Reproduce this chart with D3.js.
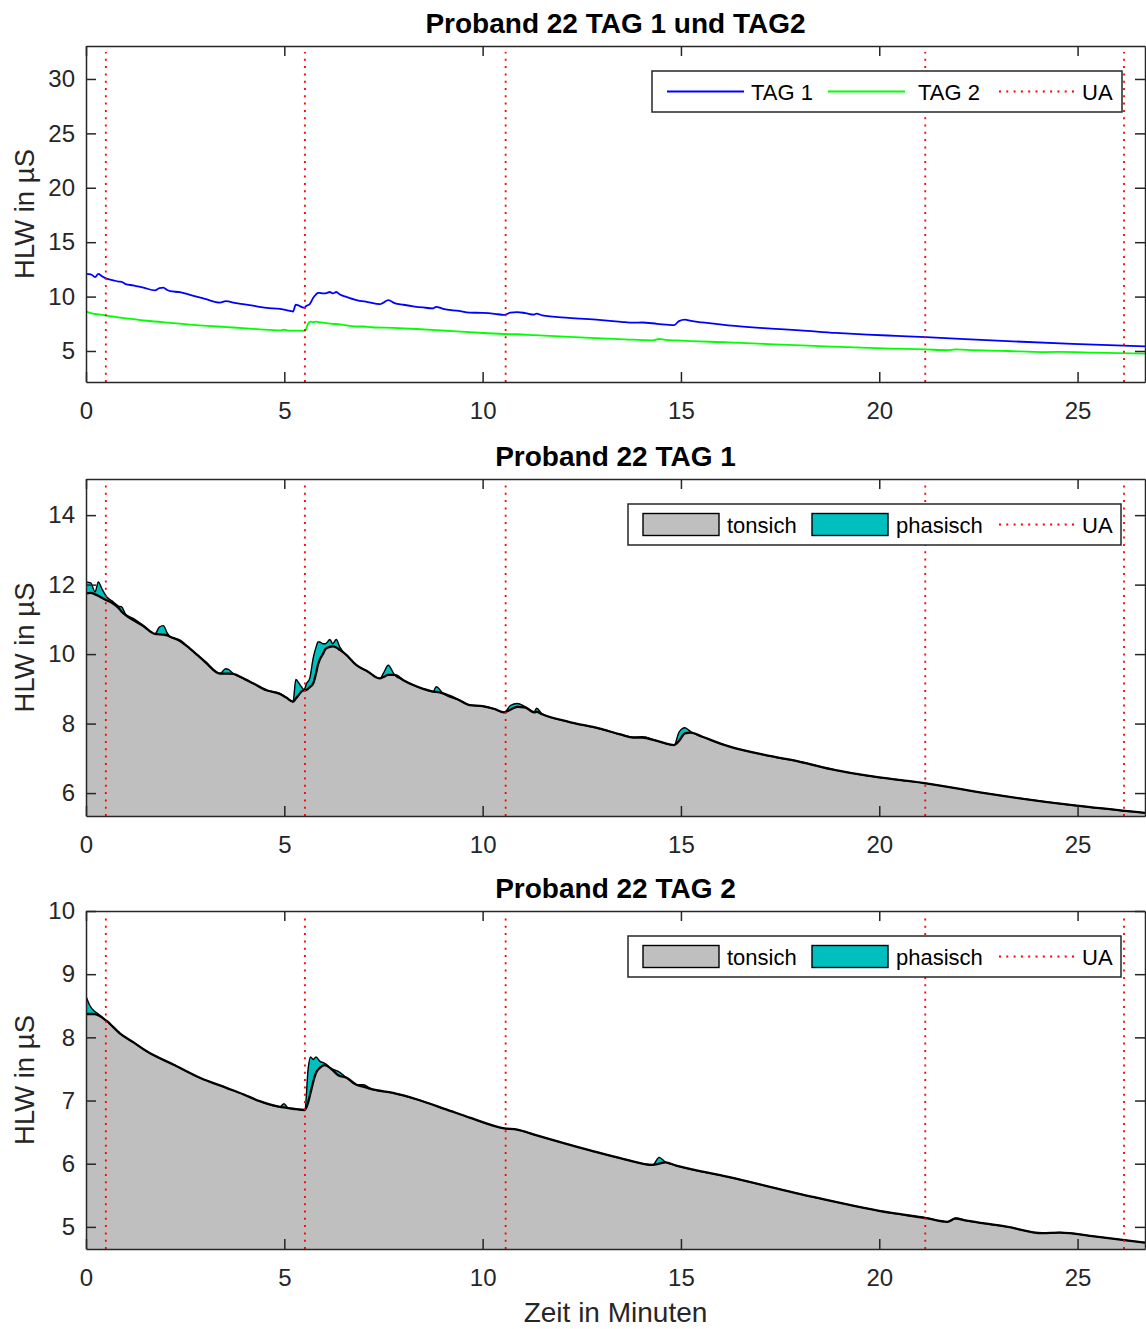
<!DOCTYPE html>
<html>
<head>
<meta charset="utf-8">
<script src="https://cdn.jsdelivr.net/npm/d3@7"></script>
<style>
  body { margin: 0; background: #fff; }
  svg text { font-family: "Liberation Sans", Arial, Helvetica, sans-serif; }
</style>
</head>
<body>
<svg id="chart" width="1146" height="1329"></svg>
<script>
// Tag 1 (minutes, total HLW, tonic HLW)
var minutesT1 = [0, 0.12, 0.23, 0.31, 0.4, 0.52, 0.69, 0.82, 0.9, 1.0, 1.19, 1.45, 1.74, 1.85, 1.95, 2.05, 2.12, 2.37, 2.62, 3.0,
  3.38, 3.52, 3.59, 3.71, 4.0, 4.21, 4.55, 4.89, 5.05, 5.22, 5.29, 5.36, 5.43, 5.5, 5.56, 5.64, 5.73, 5.8, 5.85, 5.89,
  5.97, 6.04, 6.15, 6.22, 6.31, 6.4, 6.57, 6.82, 7.1, 7.41, 7.5, 7.62, 7.78, 8.0, 8.25, 8.5, 8.75, 8.83, 9.0, 9.4,
  9.67, 10.0, 10.3, 10.54, 10.7, 10.87, 11.08, 11.3, 11.36, 11.5, 12.17, 12.93, 13.5, 13.8, 14.02, 14.4, 14.83, 14.95, 15.1, 15.25,
  15.54, 16.19, 17.27, 18.0, 18.9, 19.7, 20.43, 21.18, 22.7, 24.87, 26.7];
var tag1Total = [12.08, 12.05, 11.79, 12.08, 11.88, 11.65, 11.5, 11.38, 11.36, 11.15, 11.03, 10.82, 10.58, 10.78, 10.82, 10.6, 10.5, 10.4, 10.16, 9.78,
  9.44, 9.58, 9.56, 9.44, 9.28, 9.16, 8.96, 8.87, 8.75, 8.63, 9.27, 9.18, 9.06, 8.98, 9.15, 9.3, 9.9, 10.2, 10.35, 10.35,
  10.3, 10.3, 10.42, 10.3, 10.42, 10.2, 9.97, 9.68, 9.5, 9.3, 9.45, 9.68, 9.4, 9.25, 9.11, 9.0, 8.92, 9.06, 8.87, 8.68,
  8.53, 8.5, 8.42, 8.32, 8.52, 8.58, 8.48, 8.34, 8.44, 8.28, 8.05, 7.86, 7.68, 7.6, 7.62, 7.5, 7.38, 7.75, 7.88, 7.76,
  7.62, 7.35, 7.06, 6.9, 6.66, 6.5, 6.39, 6.28, 5.99, 5.65, 5.43];
var tag1Tonic = [11.75, 11.76, 11.72, 11.68, 11.62, 11.55, 11.45, 11.33, 11.22, 11.12, 10.98, 10.8, 10.58, 10.57, 10.56, 10.54, 10.5, 10.38, 10.16, 9.78,
  9.44, 9.44, 9.44, 9.43, 9.28, 9.16, 8.96, 8.85, 8.75, 8.63, 8.72, 8.82, 8.92, 8.96, 8.97, 9.05, 9.16, 9.45, 9.7, 9.83,
  10.0, 10.15, 10.21, 10.22, 10.19, 10.12, 9.97, 9.68, 9.5, 9.3, 9.34, 9.4, 9.4, 9.25, 9.11, 9.0, 8.92, 8.91, 8.87, 8.68,
  8.53, 8.5, 8.42, 8.32, 8.4, 8.48, 8.46, 8.32, 8.34, 8.27, 8.05, 7.86, 7.68, 7.6, 7.6, 7.5, 7.38, 7.5, 7.72, 7.74,
  7.62, 7.35, 7.06, 6.9, 6.66, 6.5, 6.39, 6.28, 5.99, 5.65, 5.43];

// Tag 2
var minutesT2 = [0, 0.1, 0.2, 0.27, 0.52, 0.86, 1.2, 1.53, 2.2, 2.87, 3.54, 3.96, 4.38, 4.89, 4.99, 5.1, 5.22, 5.52, 5.6, 5.66,
  5.73, 5.8, 5.9, 6.02, 6.2, 6.36, 6.57, 6.82, 6.99, 7.2, 7.74, 8.33, 9.08, 9.67, 10.54, 10.87, 11.3, 12.71, 13.58, 14.29,
  14.45, 14.6, 14.88, 16.19, 18.36, 20.31, 21.18, 21.72, 21.92, 22.2, 23.24, 24.11, 24.55, 25.42, 26.7];
var tag2Total = [8.65, 8.5, 8.42, 8.39, 8.26, 8.06, 7.92, 7.78, 7.57, 7.36, 7.2, 7.1, 6.99, 6.9, 6.95, 6.88, 6.87, 6.85, 7.5, 7.69,
  7.65, 7.69, 7.62, 7.59, 7.5, 7.46, 7.36, 7.25, 7.25, 7.18, 7.12, 7.02, 6.86, 6.73, 6.56, 6.54, 6.46, 6.21, 6.07, 5.98,
  6.1, 6.03, 5.97, 5.79, 5.47, 5.22, 5.14, 5.08, 5.14, 5.1, 5.0, 4.9, 4.91, 4.85, 4.75];
var tag2Tonic = [8.37, 8.37, 8.37, 8.36, 8.26, 8.06, 7.92, 7.78, 7.57, 7.36, 7.2, 7.1, 6.99, 6.9, 6.89, 6.88, 6.87, 6.85, 6.97, 7.12,
  7.3, 7.44, 7.52, 7.56, 7.49, 7.4, 7.36, 7.25, 7.22, 7.18, 7.12, 7.02, 6.86, 6.73, 6.56, 6.54, 6.46, 6.21, 6.07, 5.98,
  6.0, 6.02, 5.97, 5.79, 5.47, 5.22, 5.14, 5.08, 5.13, 5.1, 5.0, 4.9, 4.91, 4.85, 4.75];

var uaMinutes = [0.5, 5.52, 10.58, 21.16, 26.17];
var xTicks = [0, 5, 10, 15, 20, 25];

var svg = d3.select('#chart');
var axisColor = '#262626';
var x = d3.scaleLinear().domain([0, 26.7]).range([86, 1145]);

var panels = [
  { id: 'p1', top: 46, bottom: 382, domain: [2.15, 33.03], ticks: [5, 10, 15, 20, 25, 30], title: 'Proband 22 TAG 1 und TAG2' },
  { id: 'p2', top: 479, bottom: 816, domain: [5.34, 15.04], ticks: [6, 8, 10, 12, 14], title: 'Proband 22 TAG 1' },
  { id: 'p3', top: 911, bottom: 1249, domain: [4.65, 10], ticks: [5, 6, 7, 8, 9, 10], title: 'Proband 22 TAG 2' }
];

var defs = svg.append('defs');

panels.forEach(function (p) {
  p.y = d3.scaleLinear().domain(p.domain).range([p.bottom, p.top]);
  defs.append('clipPath').attr('id', 'clip-' + p.id)
    .append('rect')
    .attr('x', x.range()[0]).attr('y', p.top)
    .attr('width', x.range()[1] - x.range()[0]).attr('height', p.bottom - p.top);
  p.g = svg.append('g');
  p.plot = p.g.append('g').attr('clip-path', 'url(#clip-' + p.id + ')');
});

function zip(ms, vals) {
  return ms.map(function (m, i) { return { m: m, v: vals[i] }; });
}

// top: both totals as lines
(function () {
  var p = panels[0];
  var line = d3.line().x(function (d) { return x(d.m); }).y(function (d) { return p.y(d.v); })
    .curve(d3.curveMonotoneX);
  p.plot.append('path').datum(zip(minutesT1, tag1Total))
    .attr('d', line).attr('fill', 'none').attr('stroke', '#0000ff').attr('stroke-width', 1.8);
  p.plot.append('path').datum(zip(minutesT2, tag2Total))
    .attr('d', line).attr('fill', 'none').attr('stroke', '#00ff00').attr('stroke-width', 1.8);
})();

// stacked areas tonic + phasic
function drawAreas(p, ms, total, tonic) {
  var data = ms.map(function (m, i) { return { m: m, tot: total[i], ton: tonic[i] }; });
  var curve = d3.curveMonotoneX;
  var tonicArea = d3.area().x(function (d) { return x(d.m); })
    .y0(p.bottom).y1(function (d) { return p.y(d.ton); }).curve(curve);
  var phasicArea = d3.area().x(function (d) { return x(d.m); })
    .y0(function (d) { return p.y(d.ton); }).y1(function (d) { return p.y(d.tot); }).curve(curve);
  var totLine = d3.line().x(function (d) { return x(d.m); }).y(function (d) { return p.y(d.tot); }).curve(curve);
  var tonLine = d3.line().x(function (d) { return x(d.m); }).y(function (d) { return p.y(d.ton); }).curve(curve);

  p.plot.append('path').datum(data).attr('d', tonicArea).attr('fill', '#bfbfbf');
  p.plot.append('path').datum(data).attr('d', phasicArea).attr('fill', '#00bfbf');
  p.plot.append('path').datum(data).attr('d', totLine)
    .attr('fill', 'none').attr('stroke', '#000').attr('stroke-width', 1.4);
  p.plot.append('path').datum(data).attr('d', tonLine)
    .attr('fill', 'none').attr('stroke', '#000').attr('stroke-width', 2.3);
}
drawAreas(panels[1], minutesT1, tag1Total, tag1Tonic);
drawAreas(panels[2], minutesT2, tag2Total, tag2Tonic);

panels.forEach(function (p) {
  // UA markers
  p.plot.selectAll('.ua').data(uaMinutes).enter().append('line')
    .attr('x1', function (d) { return x(d); }).attr('x2', function (d) { return x(d); })
    .attr('y1', p.bottom).attr('y2', p.top + 6)
    .attr('stroke', '#ff0000').attr('stroke-width', 1.8)
    .attr('stroke-dasharray', '2,5.3');

  // axes (ticks inward, box)
  var bottomAxis = d3.axisBottom(x).tickValues(xTicks).tickSize(-10).tickSizeOuter(0)
    .tickPadding(20).tickFormat(d3.format('d'));
  var topAxis = d3.axisTop(x).tickValues(xTicks).tickSize(-10).tickSizeOuter(0).tickFormat(function () { return ''; });
  var leftAxis = d3.axisLeft(p.y).tickValues(p.ticks).tickSize(-10).tickSizeOuter(0)
    .tickPadding(11).tickFormat(d3.format('d'));
  var rightAxis = d3.axisRight(p.y).tickValues(p.ticks).tickSize(-10).tickSizeOuter(0).tickFormat(function () { return ''; });

  var axes = p.g.append('g');
  axes.append('g').attr('transform', 'translate(0,' + p.bottom + ')').call(bottomAxis);
  axes.append('g').attr('transform', 'translate(0,' + p.top + ')').call(topAxis);
  axes.append('g').attr('transform', 'translate(' + x.range()[0] + ',0)').call(leftAxis);
  axes.append('g').attr('transform', 'translate(' + x.range()[1] + ',0)').call(rightAxis);
  axes.selectAll('.domain').attr('stroke', axisColor).attr('stroke-width', 1.5);
  axes.selectAll('.tick line').attr('stroke', axisColor).attr('stroke-width', 1.5);
  axes.selectAll('.tick text').attr('fill', axisColor).style('font-size', '24px');

  // title
  p.g.append('text')
    .attr('x', (x.range()[0] + x.range()[1]) / 2).attr('y', p.top - 13)
    .attr('text-anchor', 'middle')
    .style('font-size', '28px').style('font-weight', 'bold').attr('fill', '#000')
    .text(p.title);

  // y label
  p.g.append('text')
    .attr('transform', 'translate(34,' + ((p.top + p.bottom) / 2) + ') rotate(-90)')
    .attr('text-anchor', 'middle')
    .style('font-size', '27.5px').attr('fill', axisColor)
    .text('HLW in µS');
});

svg.append('text')
  .attr('x', (x.range()[0] + x.range()[1]) / 2).attr('y', 1322)
  .attr('text-anchor', 'middle')
  .style('font-size', '28px').attr('fill', axisColor)
  .text('Zeit in Minuten');

// legends
function legendBox(g, x0, y0, w, h) {
  g.append('rect').attr('x', x0).attr('y', y0).attr('width', w).attr('height', h)
    .attr('fill', '#fff').attr('stroke', axisColor).attr('stroke-width', 1.5);
}
function legendText(g, tx, ty, label) {
  g.append('text').attr('x', tx).attr('y', ty).style('font-size', '22px').attr('fill', '#000').text(label);
}

(function () {
  var g = panels[0].g.append('g');
  legendBox(g, 652, 71, 470, 41);
  var cy = 91.5;
  var items = [
    { x0: 667, x1: 744, tx: 751, color: '#0000ff', dash: null, label: 'TAG 1' },
    { x0: 828, x1: 905, tx: 918, color: '#00ff00', dash: null, label: 'TAG 2' },
    { x0: 999, x1: 1074, tx: 1082, color: '#ff0000', dash: '2,5.3', label: 'UA' }
  ];
  items.forEach(function (it) {
    g.append('line').attr('x1', it.x0).attr('x2', it.x1).attr('y1', cy).attr('y2', cy)
      .attr('stroke', it.color).attr('stroke-width', 1.8).attr('stroke-dasharray', it.dash);
    legendText(g, it.tx, cy + 8, it.label);
  });
})();

[panels[1], panels[2]].forEach(function (p) {
  var g = p.g.append('g');
  var y0 = p.top + 25;
  legendBox(g, 628, y0, 493, 41);
  var cy = y0 + 20.5;
  g.append('rect').attr('x', 643).attr('y', cy - 11).attr('width', 76).attr('height', 22)
    .attr('fill', '#bfbfbf').attr('stroke', '#000').attr('stroke-width', 1.4);
  legendText(g, 727, cy + 8, 'tonsich');
  g.append('rect').attr('x', 812).attr('y', cy - 11).attr('width', 76).attr('height', 22)
    .attr('fill', '#00bfbf').attr('stroke', '#000').attr('stroke-width', 1.4);
  legendText(g, 896, cy + 8, 'phasisch');
  g.append('line').attr('x1', 999).attr('x2', 1074).attr('y1', cy).attr('y2', cy)
    .attr('stroke', '#ff0000').attr('stroke-width', 1.8).attr('stroke-dasharray', '2,5.3');
  legendText(g, 1082, cy + 8, 'UA');
});
</script>
</body>
</html>
